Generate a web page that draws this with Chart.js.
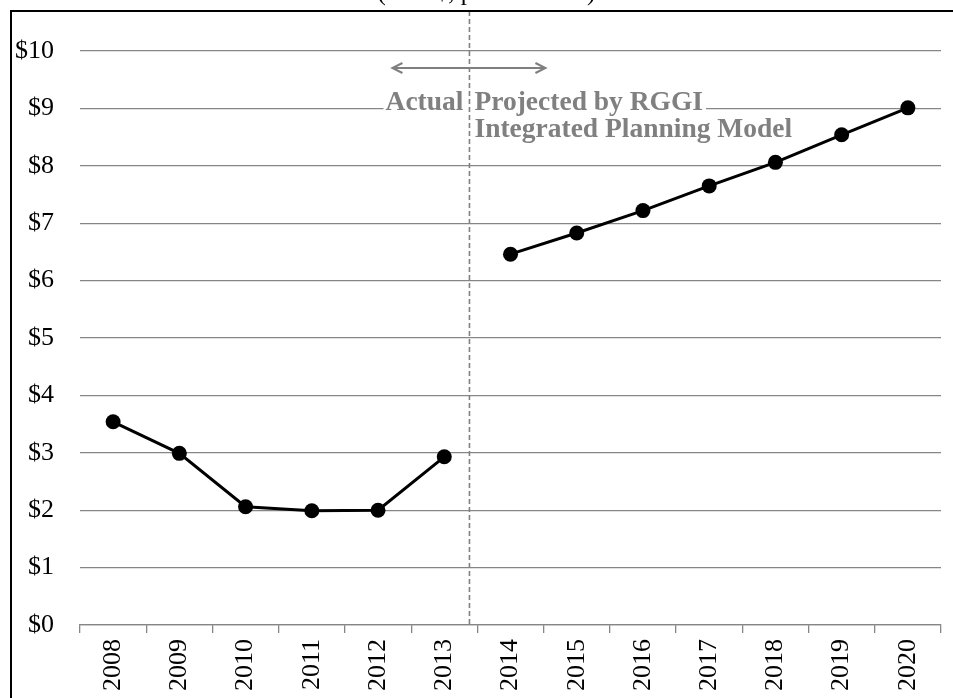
<!DOCTYPE html>
<html>
<head>
<meta charset="utf-8">
<script src="https://cdn.jsdelivr.net/npm/chart.js@4.4.0/dist/chart.umd.min.js"></script>
<style>
  html, body { margin: 0; padding: 0; background: #fff; overflow: hidden; }
  #wrap { position: relative; width: 953px; height: 698px; }
</style>
</head>
<body>
<div id="wrap"><canvas id="priceChart" width="953" height="698"></canvas></div>
<script>
// data
const years = ['2008', '2009', '2010', '2011', '2012', '2013', '2014', '2015', '2016', '2017', '2018', '2019', '2020'];
const actualPrices = [3.54, 2.99, 2.06, 1.99, 2.00, 2.93, null, null, null, null, null, null, null];
const projectedPrices = [null, null, null, null, null, null, 6.46, 6.83, 7.22, 7.65, 8.06, 8.54, 9.01];
const yTickValues = [0, 1, 2, 3, 4, 5, 6, 7, 8, 9, 10];

const titleText = '(2013$, per short ton)';
const actualLabel = 'Actual';
const projectedLabel = ['Projected by RGGI', 'Integrated Planning Model'];
const dividerAt = 5.38; // category index where the dashed divider sits

const SERIF = '"Liberation Serif", "Times New Roman", serif';
const GRID = '#868686';
const NOTE = '#808080';

// frame, divider, arrow and notes
const notesPlugin = {
    id: 'notes',
    beforeDraw(chart) {
        const ctx = chart.ctx;
        ctx.save();
        ctx.fillStyle = '#fff';
        ctx.fillRect(0, 0, chart.width, chart.height);
        ctx.restore();
    },
    beforeDatasetsDraw(chart) {
        const { ctx, chartArea, scales: { x, y } } = chart;
        const x5 = x.getPixelForValue(5), x6 = x.getPixelForValue(6);
        const divX = x5 + (dividerAt - 5) * (x6 - x5);

        const line1 = y.getPixelForValue(9) + 2;
        const line2 = line1 + 27;

        ctx.save();
        ctx.font = 'bold 27.5px ' + SERIF;
        const wAct = ctx.measureText(actualLabel).width;
        const wProj = ctx.measureText(projectedLabel[0]).width;
        // white box behind the first text row hides the gridline
        ctx.fillStyle = '#fff';
        ctx.fillRect(divX - 6 - wAct - 2, line1 - 22, wAct + wProj + 16, 27);

        ctx.fillStyle = NOTE;
        ctx.textBaseline = 'alphabetic';
        ctx.textAlign = 'right';
        ctx.fillText(actualLabel, divX - 6, line1);
        ctx.textAlign = 'left';
        ctx.fillText(projectedLabel[0], divX + 5, line1);
        ctx.fillText(projectedLabel[1], divX + 5, line2);

        // dashed divider
        ctx.strokeStyle = NOTE;
        ctx.lineWidth = 1.6;
        ctx.setLineDash([5, 3]);
        ctx.beginPath();
        ctx.moveTo(divX, 11);
        ctx.lineTo(divX, chartArea.bottom);
        ctx.stroke();
        ctx.setLineDash([]);

        // double arrow
        const ay = y.getPixelForValue(10) + 17;
        const ax1 = divX - 77, ax2 = divX + 76;
        ctx.strokeStyle = '#7f7f7f';
        ctx.lineWidth = 2;
        ctx.beginPath();
        ctx.moveTo(ax1, ay);
        ctx.lineTo(ax2, ay);
        ctx.moveTo(ax1 + 10, ay - 5);
        ctx.lineTo(ax1, ay);
        ctx.lineTo(ax1 + 10, ay + 5);
        ctx.moveTo(ax2 - 10, ay - 5);
        ctx.lineTo(ax2, ay);
        ctx.lineTo(ax2 - 10, ay + 5);
        ctx.stroke();
        ctx.restore();
    },
    afterDraw(chart) {
        const { ctx, scales: { x } } = chart;
        const x5 = x.getPixelForValue(5), x6 = x.getPixelForValue(6);
        const divX = x5 + (dividerAt - 5) * (x6 - x5);
        ctx.save();
        ctx.fillStyle = '#000';
        ctx.fillRect(10, 10, chart.width - 10, 2);
        ctx.fillRect(10, 10, 2, chart.height - 10);
        // title, cut off by the top edge
        ctx.font = '25px ' + SERIF;
        ctx.textAlign = 'center';
        ctx.textBaseline = 'alphabetic';
        ctx.fillText(titleText, divX + 17, 0);
        ctx.restore();
    }
};

new Chart(document.getElementById('priceChart').getContext('2d'), {
    type: 'line',
    data: {
        labels: years,
        datasets: [
            {
                label: 'Actual',
                data: actualPrices,
                borderColor: '#000',
                backgroundColor: '#000',
                borderWidth: 3,
                pointRadius: 7.5,
                pointBorderWidth: 0,
                pointBackgroundColor: '#000',
                tension: 0,
                spanGaps: false
            },
            {
                label: 'Projected',
                data: projectedPrices,
                borderColor: '#000',
                backgroundColor: '#000',
                borderWidth: 3,
                pointRadius: 7.5,
                pointBorderWidth: 0,
                pointBackgroundColor: '#000',
                tension: 0,
                spanGaps: false
            }
        ]
    },
    options: {
        responsive: false,
        animation: false,
        devicePixelRatio: 1,
        layout: { padding: { left: 10, right: 12, top: 51, bottom: 0 } },
        plugins: {
            legend: { display: false },
            tooltip: { enabled: false },
            title: { display: false }
        },
        scales: {
            x: {
                offset: true,
                grid: { offset: true, drawOnChartArea: false, drawTicks: true, tickLength: 8, color: GRID, lineWidth: 1.3 },
                border: { display: true, color: GRID, width: 1.3 },
                ticks: {
                    autoSkip: false, minRotation: 90, maxRotation: 90, padding: 6,
                    color: '#000', font: { family: SERIF, size: 26 }
                },
                afterFit: s => { s.height = 73; }
            },
            y: {
                min: 0,
                max: 10,
                afterBuildTicks: s => { s.ticks = yTickValues.map(v => ({ value: v })); },
                grid: { drawTicks: false, color: GRID, lineWidth: 1.3 },
                border: { display: false },
                ticks: {
                    padding: 26, color: '#000',
                    font: { family: SERIF, size: 26 },
                    callback: v => '$' + v
                },
                afterFit: s => { s.width = 70; }
            }
        }
    },
    plugins: [notesPlugin]
});
</script>
</body>
</html>
